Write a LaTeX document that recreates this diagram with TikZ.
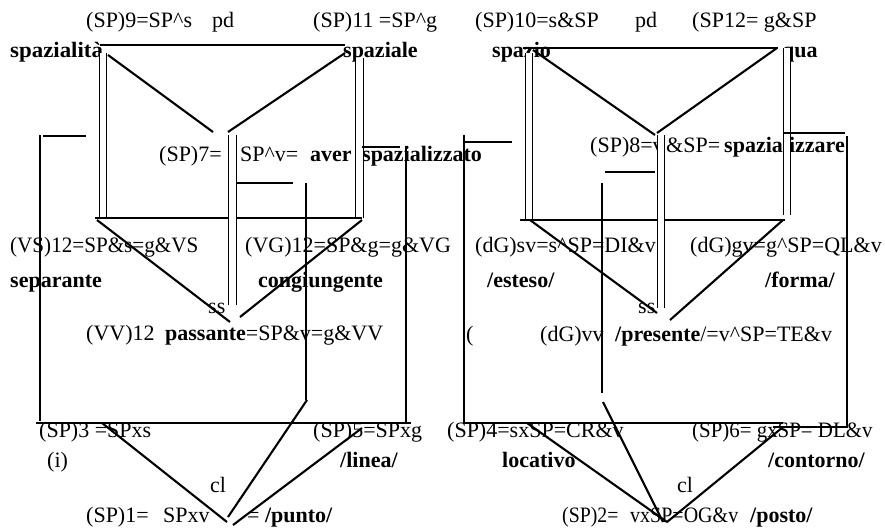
\documentclass[tikz,border=0pt]{standalone}
\usepackage{graphicx}
\usepackage{fontspec}
\setmainfont{Liberation Serif}
\newcommand\ca{\textasciicircum}
\newcommand\sx[2]{\scalebox{#1}[1]{#2}}
\tikzset{
  thk/.style={line width=2.7pt},
  dg/.style={line width=2.1pt},
  dbl/.style={double=white, double distance=6.3pt, line width=1.2pt},
  txt/.style={inner sep=0pt, anchor=base west, font=\fontsize{22}{26}\selectfont},
  btxt/.style={txt, font=\fontsize{22}{26}\selectfont\bfseries}
}
\begin{document}
\begin{tikzpicture}[x=1pt,y=-1pt]
\useasboundingbox[fill=white] (0,0) rectangle (885,527);
% ---------- texts ----------
\node[txt] (a1) at (86,28) {(SP)9=SP\ca s};
\node[txt] (a2) at (212,28) {pd};
\node[txt] (a3) at (313,28) {(SP)11 =SP\ca g};
\node[txt] (a4) at (475,28) {(SP)10=s\&SP};
\node[txt] (a5) at (635,28) {pd};
\node[txt] (a6) at (692,28) {(SP12= g\&SP};
\node[btxt] (b1) at (10,58) {\sx{1.04}{spazialità}};
\node[btxt] (b2) at (343,58) {spaziale};
\node[btxt] (b3) at (492,57) {spazio};
\node[btxt] (b4) at (782,57) {qua};
\node[txt] (c1) at (159,161) {(SP)7=};
\node[txt] (c2) at (240,161) {SP\ca v=};
\node[btxt] (c3) at (310,161) {aver};
\node[btxt] (c4) at (362,161) {spazializzato};
\node[txt] (c5) at (590,152) {(SP)8=v};
\node[txt] (c7) at (666,152) {\&SP=};
\node[btxt] (c6) at (724,152) {spazializzare};
\node[txt] (d1) at (10,252) {\sx{0.96}{(VS)12=SP\&s=g\&VS}};
\node[txt] (d2) at (245,252) {(VG)12=SP\&g=g\&VG};
\node[txt] (d3) at (475,252) {(dG)sv=s\ca SP=DI\&v};
\node[txt] (d4) at (690,252) {(dG)gv=g\ca SP=QL\&v};
\node[btxt] (e1) at (10,287) {separante};
\node[btxt] (e2) at (258,287) {congiungente};
\node[btxt] (e3) at (487,287) {/esteso/};
\node[btxt] (e4) at (765,287) {/forma/};
\node[txt] (f1) at (208,313) {ss};
\node[txt] (f2) at (638,313) {ss};
\node[txt] (g1) at (86,340) {(VV)12};
\node[txt] (g2) at (165,340) {\textbf{passante}=SP\&v=g\&VV};
\node[txt] (g3) at (466,341) {(};
\node[txt] (g4) at (540,341) {(dG)vv};
\node[txt] (g5) at (615,341) {\textbf{/presente}/=v\ca SP=TE\&v};
\node[txt] (h1) at (39,437) {(SP)3 =SPxs};
\node[txt] (h2) at (313,437) {(SP)5=SPxg};
\node[txt] (h3) at (447,437) {(SP)4=sxSP=CR\&v};
\node[txt] (h4) at (692,437) {\sx{0.95}{(SP)6= gxSP= DL\&v}};
\node[txt] (i1) at (47,467) {(i)};
\node[btxt] (i2) at (340,467) {/linea/};
\node[btxt] (i3) at (502,467) {locativo};
\node[btxt] (i4) at (768,467) {/contorno/};
\node[txt] (j1) at (210,492) {cl};
\node[txt] (j2) at (677,492) {cl};
\node[txt] (k1) at (86,522) {(SP)1=};
\node[txt] (k2) at (163,522) {SPxv};
\node[txt] (k3) at (247,522) {= \textbf{/punto/}};
\node[txt] (k4) at (562,522) {\sx{0.9}{(SP)2=}};
\node[txt] (k6) at (630,522) {\sx{0.91}{vxSP=OG\&v}};
\node[btxt] (k5) at (750,522) {/posto/};
% ---------- left figure ----------
\draw[thk] (100,45) -- (345,45);
\draw[dg] (108,55) -- (213,132);
\draw[dg] (345,53) -- (228,132);
\draw[dbl] (103,53) -- (103,219);
\draw[dbl] (359.5,58) -- (359.5,218);
\draw[thk] (95,218) -- (362,218);
\draw[dbl] (232.5,135) -- (232.5,305);
\draw[dg] (97,220) -- (230,322);
\draw[dg] (362,220) -- (240,317);
\draw[thk] (43,136) -- (86,136);
\draw[thk] (40,135) -- (40,421);
\draw[thk] (362,147) -- (400,147);
\draw[thk] (406,146) -- (406,423);
\draw[thk] (237,183) -- (293,183);
\draw[thk] (306,183) -- (306,400);
\draw[dg] (307,400) -- (228,517);
\draw[thk] (36,423) -- (411,423);
\draw[dg] (102,423) -- (227,522);
\draw[dg] (362,428) -- (233,525);
% ---------- right figure ----------
\draw[thk] (523,48) -- (778,48);
\draw[dg] (533,50) -- (655,135);
\draw[dg] (777,48) -- (657,133);
\draw[dbl] (529,53) -- (529,220);
\draw[dbl] (787,48) -- (787,215);
\draw[thk] (520,220) -- (785,220);
\draw[dbl] (661,135) -- (661,308);
\draw[dg] (530,220) -- (657,313);
\draw[dg] (783,220) -- (670,320);
\draw[thk] (463,142) -- (512,142);
\draw[thk] (464,135) -- (464,423);
\draw[thk] (783,133) -- (845,133);
\draw[thk] (847,136) -- (847,427);
\draw[thk] (605,172) -- (655,172);
\draw[thk] (602,183) -- (602,393);
\draw[dg] (603,402) -- (663,522);
\draw[thk] (463,423) -- (783,423);
\draw[thk] (773,427) -- (848,427);
\draw[dg] (527,423) -- (667,522);
\draw[dg] (783,427) -- (667,522);
\end{tikzpicture}
\end{document}
